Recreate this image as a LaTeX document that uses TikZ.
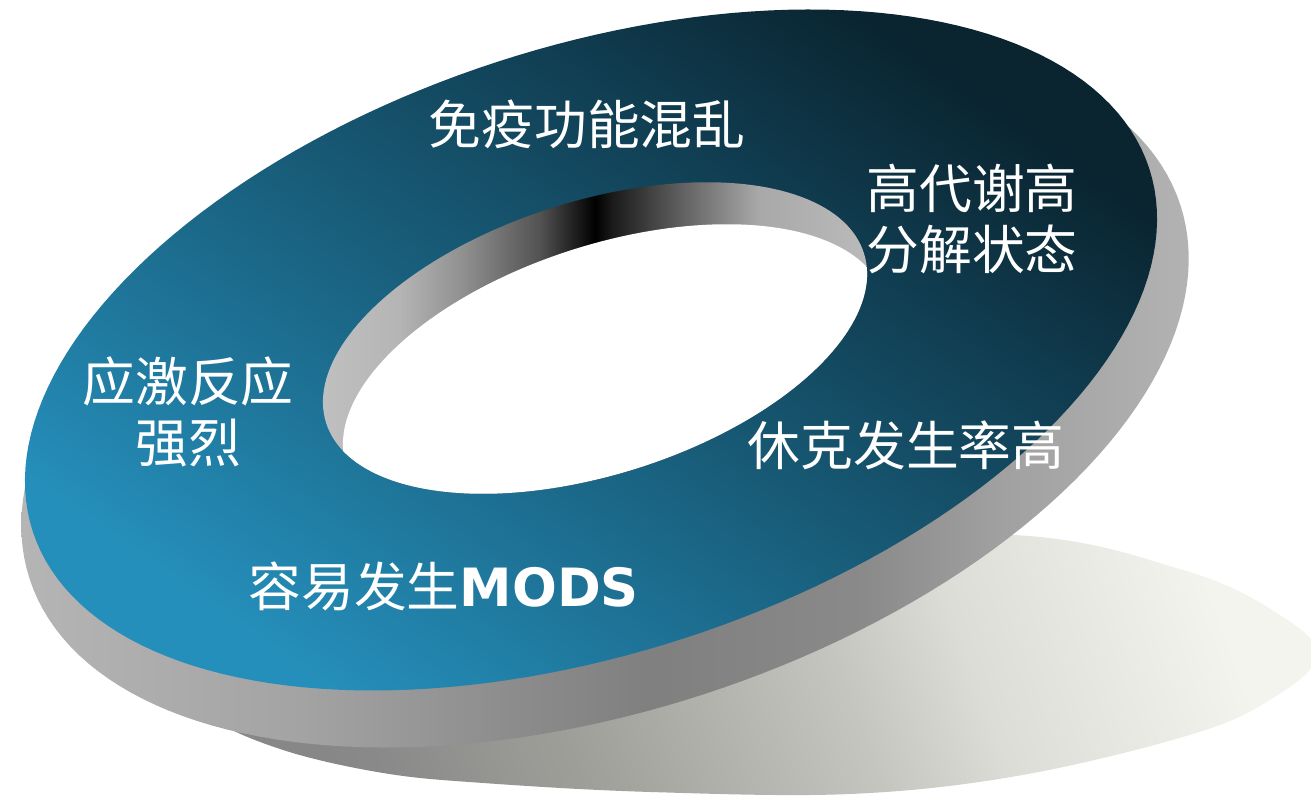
\documentclass[tikz,border=0pt]{standalone}
\usepackage{fontspec}
\newfontfamily\cjk{Noto Sans CJK SC}
\newfontfamily\latb{DejaVu Sans}
\definecolor{faceTop}{HTML}{0A2430}
\definecolor{faceMid}{HTML}{1B6280}
\definecolor{faceBot}{HTML}{258FBB}
\pgfdeclarehorizontalshading{sidegray}{100bp}{%
 rgb(0bp)=(0.71,0.71,0.71); rgb(25bp)=(0.71,0.71,0.71); rgb(37bp)=(0.64,0.64,0.64);
 rgb(46bp)=(0.55,0.55,0.55); rgb(52bp)=(0.50,0.50,0.50); rgb(61bp)=(0.54,0.54,0.54);
 rgb(67bp)=(0.63,0.63,0.63); rgb(75bp)=(0.70,0.70,0.70); rgb(100bp)=(0.70,0.70,0.70)}
\pgfdeclarehorizontalshading{innerwall}{100bp}{%
 rgb(0bp)=(0.75,0.75,0.75); rgb(25bp)=(0.75,0.75,0.75); rgb(32bp)=(0.71,0.71,0.71);
 rgb(38bp)=(0.56,0.56,0.56); rgb(45bp)=(0.32,0.32,0.32); rgb(50bp)=(0,0,0);
 rgb(51.5bp)=(0.10,0.10,0.10); rgb(58bp)=(0.38,0.38,0.38); rgb(65bp)=(0.66,0.66,0.66);
 rgb(75bp)=(0.73,0.73,0.73); rgb(100bp)=(0.73,0.73,0.73)}
\pgfdeclarehorizontalshading{shadowsh}{100bp}{%
 rgb(0bp)=(0.52,0.52,0.52); rgb(25bp)=(0.53,0.53,0.53); rgb(28bp)=(0.54,0.54,0.54);
 rgb(38bp)=(0.62,0.62,0.60); rgb(54bp)=(0.77,0.775,0.75); rgb(61bp)=(0.86,0.865,0.84);
 rgb(75bp)=(0.95,0.955,0.93); rgb(100bp)=(0.95,0.955,0.93)}
\tikzset{
  ell/.style n args={5}{insert path={plot[domain=0:360,samples=181,variable=\t]
    ({#1+#3*cos(\t)*cos(#5)-#4*sin(\t)*sin(#5)},{#2-#3*cos(\t)*sin(#5)-#4*sin(\t)*cos(#5)}) -- cycle}},
  label/.style={text=white,font=\cjk\fontsize{15}{17.6}\selectfont,align=center,inner sep=0pt},
}
\begin{document}
\begin{tikzpicture}[x=0.01cm,y=-0.01cm]
\useasboundingbox (0,0) rectangle (1311,798);
% shadow
\shade[shading=shadowsh,shading angle=20]
  plot[smooth cycle,tension=0.6] coordinates {(1318,655) (1265,703) (1183,737) (1017,776)
  (850,794) (650,792) (483,783) (383,773) (283,750) (215,718) (240,690) (400,610) (700,545)
  (1013,535) (1183,570) (1272,610)};
% ring side
\shade[shading=sidegray] [ell={605}{392}{605}{318}{18}];
% top face
\shade[top color=faceTop,middle color=faceMid,bottom color=faceBot,shading angle=-35]
  [ell={591}{350}{587}{303}{18}];
% inner wall
\shade[shading=innerwall] [ell={595}{338}{282}{137}{17.5}];
\begin{scope}
  \clip [ell={595}{338}{282}{137}{17.5}];
  \fill[white] [ell={615}{380}{282}{137}{17.5}];
\end{scope}
% labels
\node[label] (t1) at (587,124) {免疫功能混乱};
\node[label] (t2) at (972,219) {高代谢高\\分解状态};
\node[label] (t3) at (188,412) {应激反应\\强烈};
\node[label] (t4) at (906,445) {休克发生率高};
\node[label,anchor=west] (t5) at (248,586) {容易发生{\latb\bfseries MODS}};
\end{tikzpicture}
\end{document}
